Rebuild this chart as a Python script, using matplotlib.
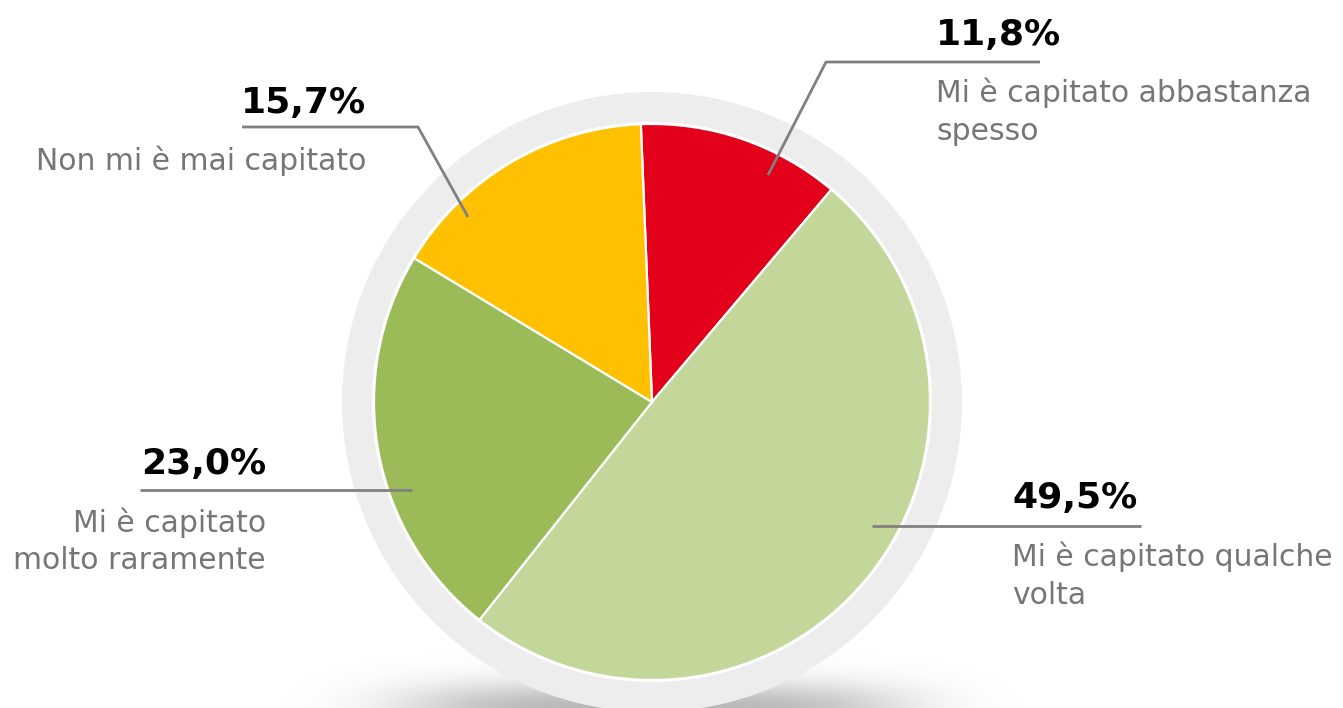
import numpy as np
import matplotlib
matplotlib.use("Agg")
import matplotlib.pyplot as plt
from matplotlib.patches import Circle

# ---- data ----
categories = ["Mi è capitato abbastanza\nspesso",
              "Mi è capitato qualche\nvolta",
              "Mi è capitato\nmolto raramente",
              "Non mi è mai capitato"]
values = [11.8, 49.5, 23.0, 15.7]
value_labels = ["11,8%", "49,5%", "23,0%", "15,7%"]
colors = ["#E2001A", "#C4D79B", "#9BBB59", "#FFC000"]

W, H = 1343, 708
fig = plt.figure(figsize=(W / 100, H / 100), dpi=100)
ax = fig.add_axes([0, 0, 1, 1])
ax.set_xlim(0, W)
ax.set_ylim(0, H)
ax.set_aspect("equal")
ax.axis("off")

cx, cy = 652, H - 402
R = 278
R_ring = 310

# soft shadow under the ring
xs = np.linspace(0, W, 600)
ys = np.linspace(0, 60, 80)
X, Y = np.meshgrid(xs, ys)
sh = np.exp(-((X - cx) / 250.0) ** 4) * np.exp(-((Y - 0) / 26.0) ** 2)
rgba = np.zeros((len(ys), len(xs), 4))
rgba[..., :3] = 0.5
rgba[..., 3] = 0.55 * sh
ax.imshow(rgba, extent=[0, W, 0, 60], origin="lower", zorder=0, aspect="auto")

ax.add_patch(Circle((cx, cy), R_ring, facecolor="#EDEDED", edgecolor="none", zorder=1))
ax.add_patch(Circle((cx, cy), R + 2, facecolor="white", edgecolor="none", zorder=1.5))

wedges, _ = ax.pie(values, colors=colors, startangle=92.3, counterclock=False,
                   center=(cx, cy), radius=R, frame=True,
                   wedgeprops=dict(edgecolor="white", linewidth=1.6))
for w in wedges:
    w.set_zorder(2)
ax.set_xlim(0, W)
ax.set_ylim(0, H)
ax.axis("off")

line_col = "#808080"
lab_col = "#767676"
fs_val = 26
fs_lab = 21.5

# label layout: (leader polyline in pixel coords, value text pos, label text pos, align)
layout = [
    dict(line=[(768, 175), (826, 62), (1040, 62)], val=(936, 45), lab=(936, 78), ha="left"),
    dict(line=[(872, 526), (1141, 526)], val=(1012, 508), lab=(1012, 542), ha="left"),
    dict(line=[(412, 490), (140, 490)], val=(266, 474), lab=(266, 507), ha="right"),
    dict(line=[(468, 217), (418, 127), (242, 127)], val=(366, 113), lab=(366, 145), ha="right"),
]

for i, lay in enumerate(layout):
    pts = np.array(lay["line"], dtype=float)
    ax.plot(pts[:, 0], H - pts[:, 1], color=line_col, lw=2.0, zorder=3,
            solid_capstyle="butt")
    ax.text(lay["val"][0], H - lay["val"][1], value_labels[i], fontsize=fs_val,
            fontweight="bold", color="black", ha=lay["ha"], va="baseline",
            family="DejaVu Sans", zorder=4)
    ax.text(lay["lab"][0], H - lay["lab"][1], categories[i], fontsize=fs_lab,
            color=lab_col, ha=lay["ha"], va="top", multialignment=lay["ha"],
            linespacing=1.36, family="DejaVu Sans", zorder=4)

fig.savefig("out.png", dpi=100)
